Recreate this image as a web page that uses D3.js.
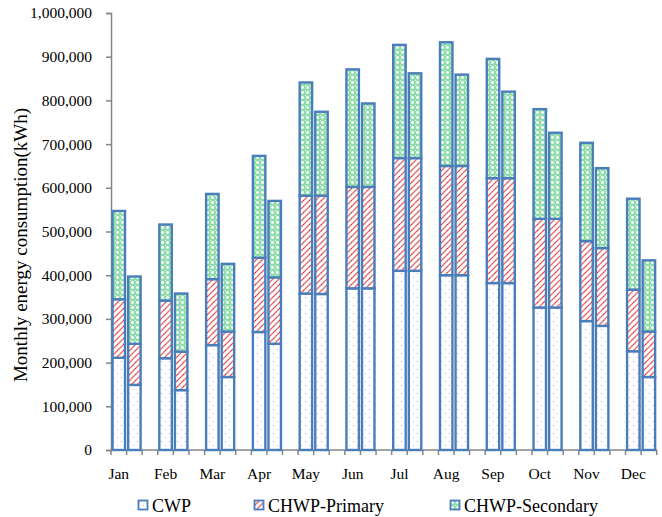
<!DOCTYPE html>
<html>
<head>
<meta charset="utf-8">
<script src="https://cdn.jsdelivr.net/npm/d3@7"></script>
<style>
  body { margin: 0; background: #fff; }
  svg { display: block; font-family: "Liberation Serif", "Times New Roman", serif; }
</style>
</head>
<body>
<div id="chart"></div>
<script>
// months on the axis, two bars per month
const months = ["Jan", "Feb", "Mar", "Apr", "May", "Jun", "Jul", "Aug", "Sep", "Oct", "Nov", "Dec"];
const seriesNames = ["CWP", "CHWP-Primary", "CHWP-Secondary"];

// kWh, bar 1 and bar 2 for each month
const cwp = [211000, 149000, 210000, 137000, 240000, 167000, 270000, 243000, 358000, 357000, 370000, 370000,
             410000, 410000, 400000, 400000, 382000, 382000, 326000, 326000, 295000, 284000, 226000, 167000];
const chwpPrimary = [134000, 94000, 132000, 88000, 151000, 104000, 170000, 152000, 224000, 225000, 232000, 232000,
                     258000, 258000, 250000, 250000, 240000, 240000, 203000, 203000, 183000, 178000, 141000, 104000];
const chwpSecondary = [202000, 154000, 174000, 133000, 195000, 155000, 233000, 175000, 259000, 192000, 269000, 191000,
                       259000, 194000, 283000, 209000, 273000, 198000, 251000, 197000, 225000, 183000, 208000, 163000];
const yTicks = [0, 100000, 200000, 300000, 400000, 500000, 600000, 700000, 800000, 900000, 1000000];

const width = 662, height = 517;
const outline = "#4a7ebb";
const axisColor = "#868686";

const svg = d3.select("#chart").append("svg")
  .attr("width", width)
  .attr("height", height);

const defs = svg.append("defs");

// CWP: white with small purple dots
const pCwp = defs.append("pattern").attr("id", "pat-cwp")
  .attr("patternUnits", "userSpaceOnUse").attr("width", 8).attr("height", 8);
pCwp.append("rect").attr("width", 8).attr("height", 8).attr("fill", "#fff");
pCwp.append("rect").attr("x", 1).attr("y", 1).attr("width", 1).attr("height", 1).attr("fill", "#b79ae0");
pCwp.append("rect").attr("x", 5).attr("y", 5).attr("width", 1).attr("height", 1).attr("fill", "#c9b3ea");

// primary: red diagonal zigzag
const pPri = defs.append("pattern").attr("id", "pat-pri")
  .attr("patternUnits", "userSpaceOnUse").attr("width", 6).attr("height", 6);
pPri.append("rect").attr("width", 6).attr("height", 6).attr("fill", "#fff");
pPri.append("path").attr("d", "M-1,7 L7,-1 M-4,4 L4,-4 M2,10 L10,2")
  .attr("stroke", "#e8696b").attr("stroke-width", 1.3);
pPri.append("rect").attr("x", 3).attr("y", 2).attr("width", 1).attr("height", 1).attr("fill", "#d43a3e");

// secondary: green trellis with white spots
const pSec = defs.append("pattern").attr("id", "pat-sec")
  .attr("patternUnits", "userSpaceOnUse").attr("width", 5).attr("height", 5);
pSec.append("rect").attr("width", 5).attr("height", 5).attr("fill", "#8fdcaa");
pSec.append("circle").attr("cx", 2.5).attr("cy", 2.5).attr("r", 1.4).attr("fill", "#fff");
pSec.append("rect").attr("x", 0).attr("y", 0).attr("width", 1).attr("height", 1).attr("fill", "#e9f8ee");

const patterns = ["url(#pat-cwp)", "url(#pat-pri)", "url(#pat-sec)"];

// 35 category slots: bar, bar, gap for each month (no trailing gap)
const slots = d3.range(35);
const x = d3.scaleBand()
  .domain(slots)
  .range([111, 656.7])
  .paddingInner(0.2)
  .paddingOuter(0.1);

const y = d3.scaleLinear()
  .domain([0, 1000000])
  .range([450, 13]);

const bars = cwp.map((v, i) => ({
  slot: Math.floor(i / 2) * 3 + (i % 2),
  values: [v, chwpPrimary[i], chwpSecondary[i]]
}));

const stacked = [];
bars.forEach(b => {
  let acc = 0;
  b.values.forEach((v, k) => {
    stacked.push({ slot: b.slot, k: k, y0: acc, y1: acc + v });
    acc += v;
  });
});

// axes
const yAxis = svg.append("g")
  .attr("transform", "translate(111,0)")
  .call(d3.axisLeft(y).tickValues(yTicks).tickFormat(d3.format(",")).tickSize(5).tickPadding(14));
yAxis.attr("font-family", "Liberation Serif");
yAxis.select(".domain").attr("stroke", axisColor).attr("stroke-width", 1.5);
yAxis.selectAll(".tick line").attr("stroke", axisColor).attr("stroke-width", 1.5);
yAxis.selectAll(".tick text").attr("fill", "#000").attr("font-size", 15.5);

const xg = svg.append("g");
xg.append("line")
  .attr("x1", x.range()[0]).attr("x2", x.range()[1])
  .attr("y1", y(0)).attr("y2", y(0))
  .attr("stroke", axisColor).attr("stroke-width", 1.5);
xg.selectAll("line.tk")
  .data(d3.range(36))
  .join("line")
  .attr("class", "tk")
  .attr("x1", i => x.range()[0] + i * x.step())
  .attr("x2", i => x.range()[0] + i * x.step())
  .attr("y1", y(0)).attr("y2", y(0) + 5)
  .attr("stroke", axisColor).attr("stroke-width", 1.5);
xg.selectAll("text")
  .data(months)
  .join("text")
  .attr("x", (d, i) => x(i * 3) + x.bandwidth() / 2)
  .attr("y", 479)
  .attr("text-anchor", "middle")
  .attr("font-size", 15.5)
  .text(d => d);

// bars
svg.append("g")
  .selectAll("rect")
  .data(stacked)
  .join("rect")
  .attr("x", d => x(d.slot))
  .attr("width", x.bandwidth())
  .attr("y", d => y(d.y1))
  .attr("height", d => y(d.y0) - y(d.y1))
  .attr("fill", d => patterns[d.k])
  .attr("stroke", outline)
  .attr("stroke-width", 2.4);

// y title
svg.append("text")
  .attr("transform", "translate(27,245) rotate(-90)")
  .attr("text-anchor", "middle")
  .attr("font-size", 19)
  .text("Monthly energy consumption(kWh)");

// legend
const legendX = [138, 254, 450];
const lg = svg.append("g")
  .selectAll("g")
  .data(seriesNames)
  .join("g")
  .attr("transform", (d, i) => `translate(${legendX[i]},500)`);
lg.append("rect")
  .attr("x", 0.5).attr("y", 0.5)
  .attr("width", 9).attr("height", 9)
  .attr("fill", (d, i) => patterns[i])
  .attr("stroke", outline)
  .attr("stroke-width", 1.8);
lg.append("text")
  .attr("x", 14)
  .attr("y", 11.5)
  .attr("font-size", 18)
  .text(d => d);
</script>
</body>
</html>
